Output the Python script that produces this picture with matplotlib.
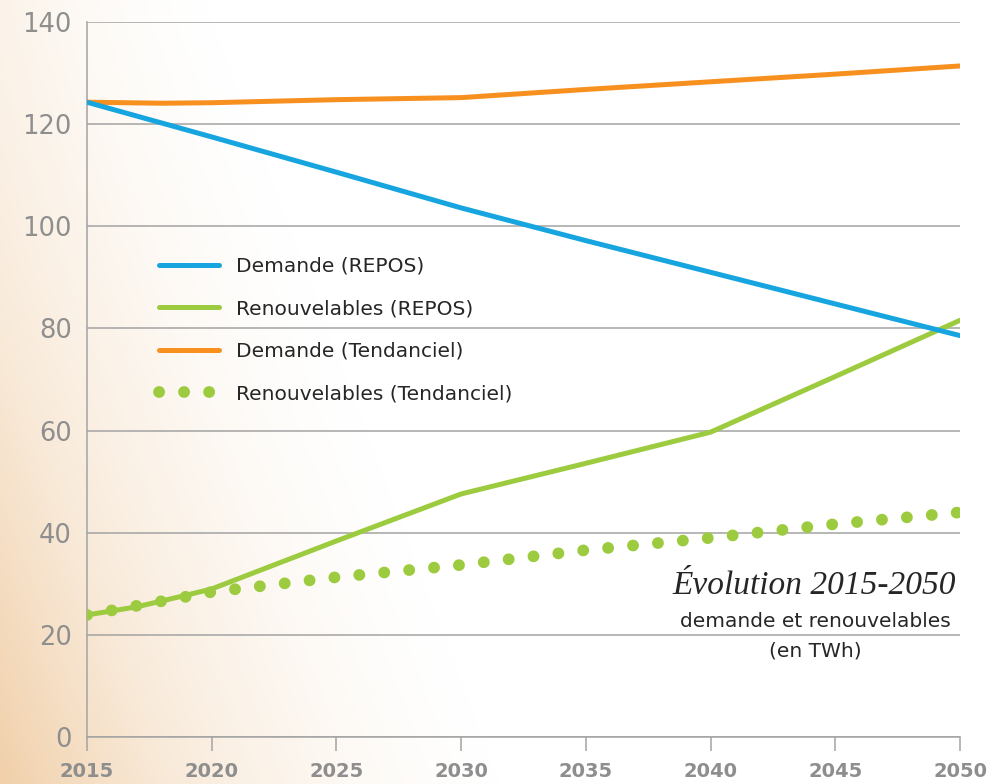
import numpy as np
import matplotlib
matplotlib.use("Agg")
import matplotlib.pyplot as plt
from matplotlib.colors import LinearSegmentedColormap

# data (TWh)
years = [2015, 2020, 2025, 2030, 2035, 2040, 2045, 2050]
demande_repos = [124.3, 117.5, 110.6, 103.6, 97.2, 91.0, 84.8, 78.6]
demande_tend_years = [2015, 2018, 2020, 2025, 2030, 2035, 2040, 2045, 2050]
demande_tend = [124.3, 124.1, 124.2, 124.8, 125.2, 126.8, 128.3, 129.8, 131.4]
renouv_repos_years = [2015, 2017, 2019, 2020, 2025, 2030, 2035, 2040, 2045, 2050]
renouv_repos = [23.9, 25.5, 27.8, 29.0, 38.4, 47.6, 53.6, 59.7, 70.6, 81.6]
renouv_tend = [23.9, 28.4, 31.3, 33.7, 36.6, 39.0, 41.7, 44.0]

yticks = [0, 20, 40, 60, 80, 100, 120, 140]
xticks = years

BLUE = "#17a5e0"
GREEN = "#9dcb3f"
ORANGE = "#f7901e"
GRID = "#a3a3a3"
TEXT = "#262626"
TICK = "#8e8e8e"

fig = plt.figure(figsize=(9.88, 7.84), dpi=100)

# peach wash on the left edge, strongest in the bottom-left corner
bg = fig.add_axes([0, 0, 1, 1], zorder=-10)
gx, gy = np.meshgrid(np.linspace(0, 1, 400), np.linspace(1, 0, 400))
extent_x = 0.22 + 0.30 * (1 - gy)
strength = 0.30 + 0.70 * (1 - gy) ** 1.3
shade = strength * np.clip(1 - gx / extent_x, 0, 1) ** 1.6
cmap = LinearSegmentedColormap.from_list("peach", ["#ffffff", "#f9ebdb", "#f1d0aa"])
bg.imshow(shade, cmap=cmap, aspect="auto", extent=[0, 1, 0, 1], vmin=0, vmax=1)
bg.axis("off")

ax = fig.add_axes([0.0881, 0.0599, 0.8836, 0.912])
ax.patch.set_alpha(0)

ax.plot(years, demande_repos, color=BLUE, lw=3.6, solid_capstyle="round",
        label="Demande (REPOS)", zorder=4)
ax.plot(renouv_repos_years, renouv_repos, color=GREEN, lw=3.6,
        solid_capstyle="round", label="Renouvelables (REPOS)", zorder=3)
ax.plot(demande_tend_years, demande_tend, color=ORANGE, lw=3.6,
        solid_capstyle="round", label="Demande (Tendanciel)", zorder=3)
ax.plot(years, renouv_tend, color=GREEN, lw=8.5, linestyle=(0, (0.01, 2.11)),
        dash_capstyle="round", label="Renouvelables (Tendanciel)", zorder=3)

ax.set_xlim(2015, 2050)
ax.set_ylim(0, 140)
ax.set_yticks(yticks)
ax.set_xticks(xticks)
ax.grid(axis="y", color=GRID, lw=1.1)
ax.set_axisbelow(True)
for s in ["top", "right"]:
    ax.spines[s].set_visible(False)
for s in ["left", "bottom"]:
    ax.spines[s].set_color(GRID)
    ax.spines[s].set_linewidth(1.1)

ax.tick_params(axis="y", length=0, pad=11, labelsize=18.5, labelcolor=TICK)
ax.tick_params(axis="x", length=10, width=1.1, color=GRID, pad=8,
               labelsize=14, labelcolor=TICK)
for t in ax.get_yticklabels():
    t.set_fontfamily("DejaVu Sans")
for t in ax.get_xticklabels():
    t.set_fontfamily("DejaVu Sans")
    t.set_fontweight("bold")

leg = ax.legend(loc="upper left", bbox_to_anchor=(0.062, 0.697), frameon=False,
                handlelength=2.98, handletextpad=0.84, labelspacing=1.17,
                prop={"family": "DejaVu Sans", "size": 14.5})
for t in leg.get_texts():
    t.set_color(TEXT)

ax.text(0.833, 0.211, "Évolution 2015-2050", transform=ax.transAxes,
        ha="center", va="center", fontsize=24, style="italic",
        family="Liberation Serif", color=TEXT)
ax.text(0.834, 0.162, "demande et renouvelables", transform=ax.transAxes,
        ha="center", va="center", fontsize=14.5, family="DejaVu Sans",
        color=TEXT)
ax.text(0.834, 0.121, "(en TWh)", transform=ax.transAxes,
        ha="center", va="center", fontsize=14.5, family="DejaVu Sans",
        color=TEXT)

fig.savefig("out.png", dpi=100)
